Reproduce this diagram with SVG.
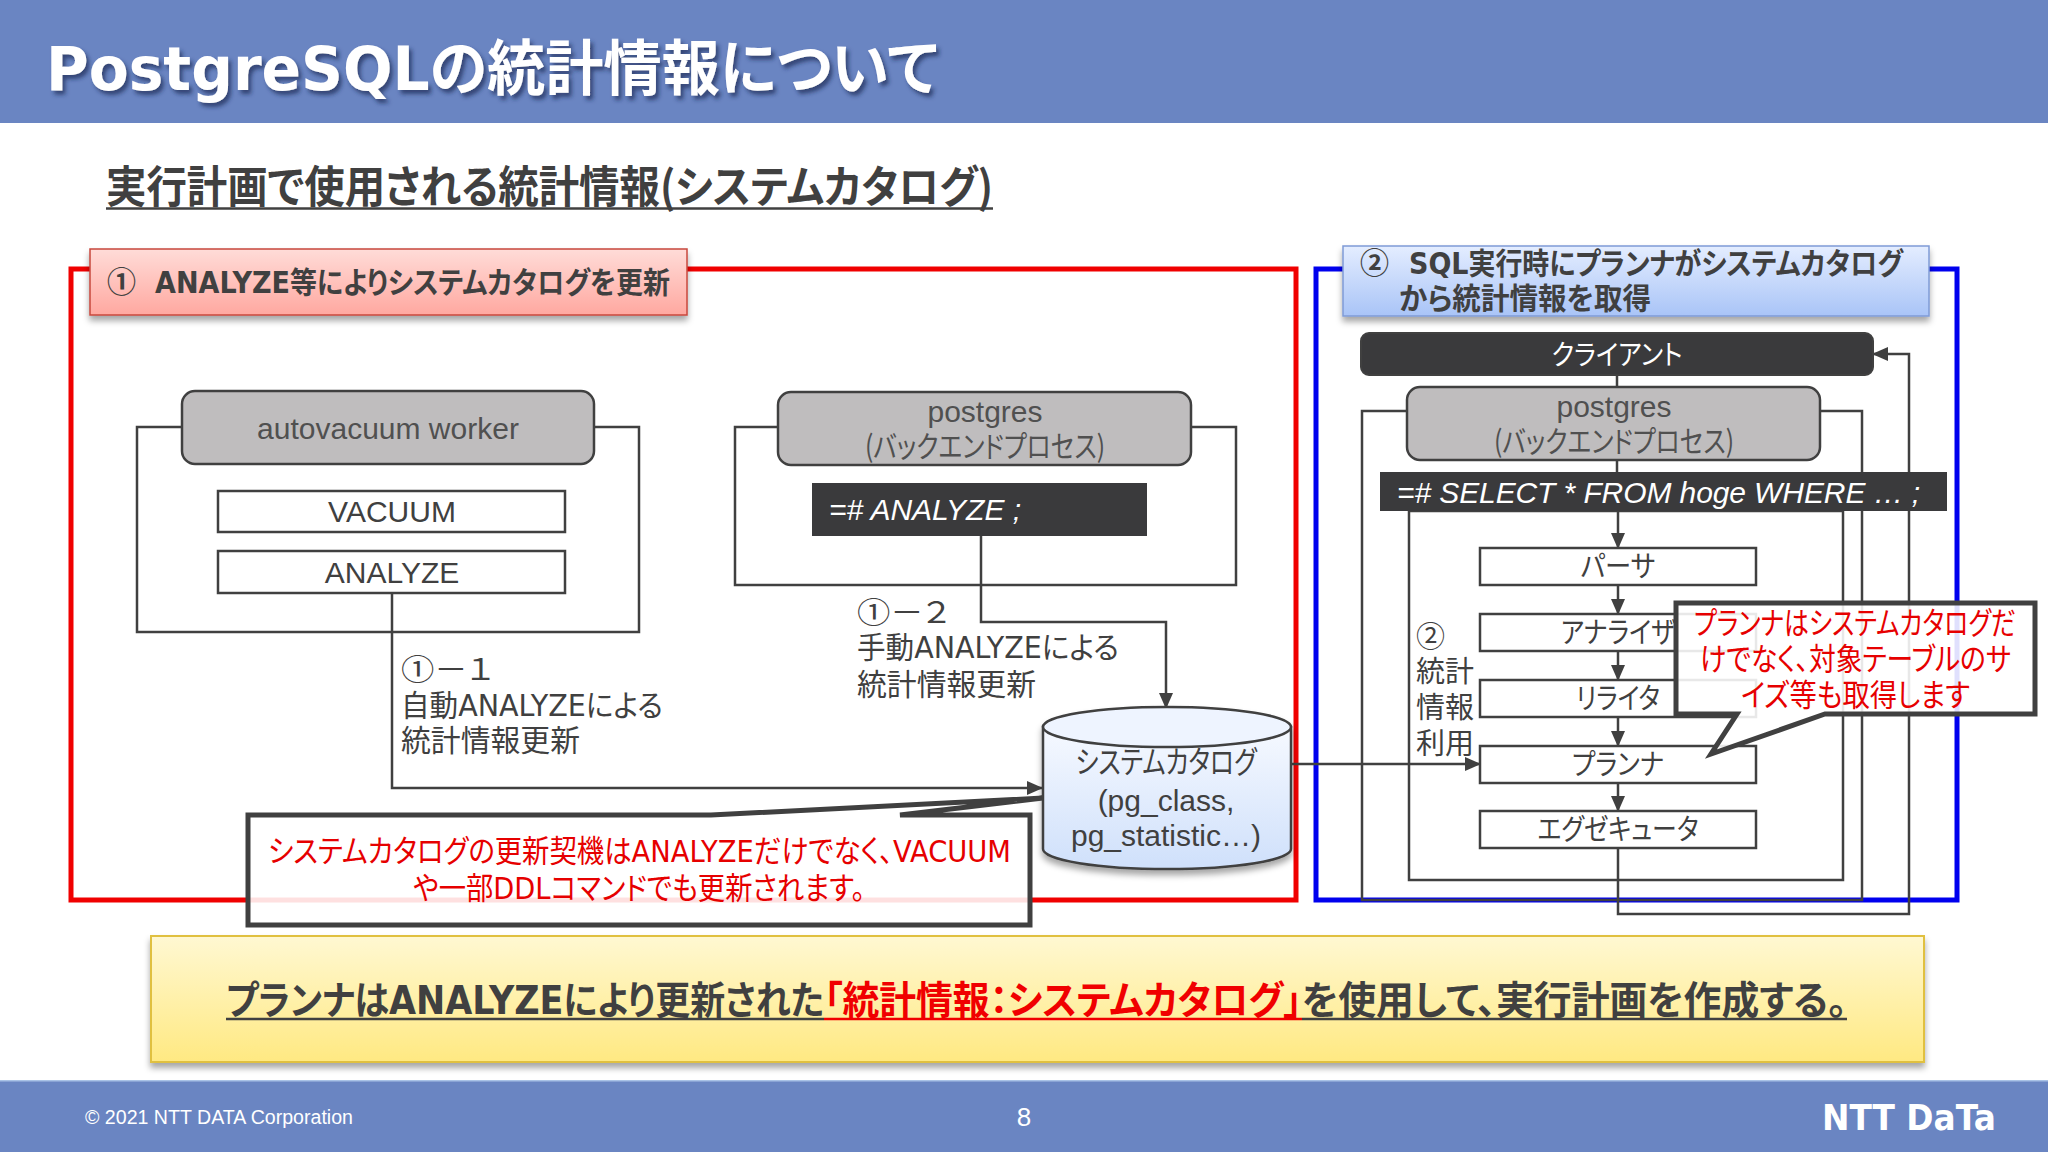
<svg xmlns="http://www.w3.org/2000/svg" width="2048" height="1152" viewBox="0 0 2048 1152">
<style>
text{font-family:"Noto Sans CJK JP","Noto Sans",sans-serif;fill:#404040;font-feature-settings:"palt"}
.a{font-family:"Liberation Sans","Noto Sans CJK JP",sans-serif}
.v{font-family:"DejaVu Sans",sans-serif;font-size:1em}
.w{fill:#fff}
.r{fill:#e60000}
.b{font-weight:700}
.m{text-anchor:middle}
.f{fill:#fff;stroke:#404040;stroke-width:2.5}
.h{fill:#bfbdbe;stroke:#404040;stroke-width:2.5}
.l{fill:none;stroke:#404040;stroke-width:2.5}
.d{fill:#3a3a3c}
.c{fill:#fff;fill-opacity:.88;stroke:#404040;stroke-width:5;stroke-linejoin:miter}
</style>
<defs>
<marker id="ah" markerUnits="userSpaceOnUse" markerWidth="16" markerHeight="14" refX="15" refY="7" orient="auto"><path d="M0 0L16 7L0 14Z" fill="#404040"/></marker>
<linearGradient id="gr" x1="0" y1="0" x2="0" y2="1"><stop offset="0" stop-color="#ffdcd8"/><stop offset="1" stop-color="#ffa8a0"/></linearGradient>
<linearGradient id="gb" x1="0" y1="0" x2="0" y2="1"><stop offset="0" stop-color="#e4edff"/><stop offset="1" stop-color="#a9c4f7"/></linearGradient>
<linearGradient id="gy" x1="0" y1="0" x2="0" y2="1"><stop offset="0" stop-color="#fff8d2"/><stop offset="1" stop-color="#ffe982"/></linearGradient>
<linearGradient id="gc" x1="0" y1="0" x2="0" y2="1"><stop offset="0" stop-color="#f6f9ff"/><stop offset="1" stop-color="#cfe0fb"/></linearGradient>
<filter id="sh" x="-5%" y="-10%" width="110%" height="130%"><feDropShadow dx="0" dy="5" stdDeviation="3" flood-color="#000" flood-opacity=".35"/></filter>
<filter id="ts" x="-5%" y="-20%" width="110%" height="150%"><feDropShadow dx="3" dy="4" stdDeviation="2" flood-color="#1c2c55" flood-opacity=".7"/></filter>
</defs>
<rect width="2048" height="1152" fill="#fff"/>
<g id="header">
<rect width="2048" height="123" fill="#6a85c2"/>
<text x="46" y="90" class="w b" font-size="60" textLength="892" lengthAdjust="spacingAndGlyphs" filter="url(#ts)"><tspan class="v">PostgreSQL</tspan>の統計情報について</text>
</g>
<g id="subtitle">
<text x="106" y="203" class="b" font-size="44" textLength="887" lengthAdjust="spacingAndGlyphs">実行計画で使用される統計情報(システムカタログ)</text>
<line x1="106" y1="208.5" x2="993" y2="208.5" stroke="#404040" stroke-width="2.5"/>
</g>
<g id="frames">
<rect x="71" y="269" width="1225" height="631" fill="none" stroke="#f00000" stroke-width="5"/>
<rect x="1316" y="269" width="641" height="631" fill="none" stroke="#0000ee" stroke-width="5"/>
</g>
<g id="label-1">
<rect x="90" y="249" width="597" height="66" fill="url(#gr)" stroke="#c8483c" stroke-width="1.5" filter="url(#sh)"/>
<text x="107" y="293" class="b" font-size="29">①</text>
<text x="155" y="293" class="b" font-size="30" textLength="515" lengthAdjust="spacingAndGlyphs"><tspan class="v">ANALYZE</tspan>等によりシステムカタログを更新</text>
</g>
<g id="label-2">
<rect x="1343" y="246" width="586" height="70" fill="url(#gb)" stroke="#7f9bd6" stroke-width="1.5" filter="url(#sh)"/>
<text x="1360" y="274" class="b" font-size="29">②</text>
<text x="1409" y="274" class="b" font-size="30" textLength="494" lengthAdjust="spacingAndGlyphs"><tspan class="v">SQL</tspan>実行時にプランナがシステムカタログ</text>
<text x="1399" y="309" class="b" font-size="30" textLength="252" lengthAdjust="spacingAndGlyphs">から統計情報を取得</text>
</g>
<g id="autovacuum">
<rect x="137" y="427" width="502" height="205" class="l"/>
<rect x="182" y="391" width="412" height="73" rx="13" class="h"/>
<text x="388" y="439" class="a m" font-size="30" style="fill:#505050">autovacuum worker</text>
</g>
<g id="vacuum"><rect x="218" y="491" width="347" height="41" class="f"/><text x="392" y="522" class="a m" font-size="30">VACUUM</text></g>
<g id="analyze"><rect x="218" y="551" width="347" height="42" class="f"/><text x="392" y="583" class="a m" font-size="30">ANALYZE</text></g>
<g id="postgres-1">
<rect x="735" y="427" width="501" height="158" class="l"/>
<rect x="778" y="392" width="413" height="73" rx="13" class="h"/>
<text x="985" y="422" class="a m" font-size="30" style="fill:#505050">postgres</text>
<text x="985" y="457" class="m" font-size="30" textLength="240" lengthAdjust="spacingAndGlyphs" style="fill:#505050">(バックエンドプロセス)</text>
</g>
<g id="manual-analyze"><rect x="812" y="483" width="335" height="53" class="d"/><text x="829" y="520" class="a w" font-size="30" font-style="italic">=# ANALYZE ;</text></g>
<g id="postgres-2-frames">
<rect x="1362" y="411" width="500" height="489" class="l"/>
<rect x="1409" y="511" width="434" height="369" class="l"/>
</g>
<g id="connectors">
<path d="M392 593V788H1042" class="l" marker-end="url(#ah)" stroke-width="3"/>
<path d="M981 536V622H1166V708" class="l" marker-end="url(#ah)"/>
<path d="M1290 764H1480" class="l" marker-end="url(#ah)"/>
<path d="M1617 375V387M1617 460V472" class="l"/>
<path d="M1618 511V548" class="l" marker-end="url(#ah)"/>
<path d="M1618 585V614" class="l" marker-end="url(#ah)"/>
<path d="M1618 651V680" class="l" marker-end="url(#ah)"/>
<path d="M1618 717V746" class="l" marker-end="url(#ah)"/>
<path d="M1618 783V811" class="l" marker-end="url(#ah)"/>
<path d="M1618 848V914H1909V354H1873" class="l" marker-end="url(#ah)"/>
</g>
<g id="catalog" filter="url(#sh)">
<path d="M1043 727V849A124 20 0 0 0 1291 849V727Z" fill="url(#gc)" stroke="#404040" stroke-width="2.5"/>
<ellipse cx="1167" cy="727" rx="124" ry="20" fill="#eef4ff" stroke="#404040" stroke-width="2.5"/>
</g>
<g id="catalog-text">
<text x="1166" y="773" class="m" font-size="31" textLength="181" lengthAdjust="spacingAndGlyphs">システムカタログ</text>
<text x="1166" y="811" class="a m" font-size="30">(pg_class,</text>
<text x="1166" y="846" class="a m" font-size="30">pg_statistic…)</text>
</g>
<g id="note-1">
<text x="401" y="680" font-size="30" textLength="92" lengthAdjust="spacingAndGlyphs">①－１</text>
<text x="401" y="716" font-size="30" textLength="262" lengthAdjust="spacingAndGlyphs">自動<tspan class="v">ANALYZE</tspan>による</text>
<text x="401" y="751" font-size="30" textLength="179" lengthAdjust="spacingAndGlyphs">統計情報更新</text>
</g>
<g id="note-2">
<text x="857" y="623" font-size="30" textLength="92" lengthAdjust="spacingAndGlyphs">①－２</text>
<text x="857" y="658" font-size="30" textLength="262" lengthAdjust="spacingAndGlyphs">手動<tspan class="v">ANALYZE</tspan>による</text>
<text x="857" y="695" font-size="30" textLength="179" lengthAdjust="spacingAndGlyphs">統計情報更新</text>
</g>
<g id="callout-1">
<path d="M248 815H711L1043 798L900 815H1030V925H248Z" class="c"/>
<text x="268" y="862" class="r" font-size="31" textLength="743" lengthAdjust="spacingAndGlyphs">システムカタログの更新契機は<tspan class="v">ANALYZE</tspan>だけでなく、<tspan class="v">VACUUM</tspan></text>
<text x="413" y="899" class="r" font-size="31" textLength="452" lengthAdjust="spacingAndGlyphs">や一部<tspan class="v">DDL</tspan>コマンドでも更新されます。</text>
</g>
<g id="client"><rect x="1361" y="333" width="512" height="42" rx="8" class="d" stroke="#404040" stroke-width="2"/><text x="1617" y="365" class="w m" font-size="28" textLength="131" lengthAdjust="spacingAndGlyphs">クライアント</text></g>
<g id="postgres-2">
<rect x="1407" y="387" width="413" height="73" rx="13" class="h"/>
<text x="1614" y="417" class="a m" font-size="30" style="fill:#505050">postgres</text>
<text x="1614" y="452" class="m" font-size="30" textLength="240" lengthAdjust="spacingAndGlyphs" style="fill:#505050">(バックエンドプロセス)</text>
</g>
<g id="select"><rect x="1380" y="472" width="567" height="39" class="d"/><text x="1397" y="503" class="a w" font-size="30" font-style="italic" textLength="523">=# SELECT * FROM hoge WHERE … ;</text></g>
<g id="parser"><rect x="1480" y="548" width="276" height="37" class="f"/><text x="1618" y="577" class="m" font-size="29" textLength="75" lengthAdjust="spacingAndGlyphs">パーサ</text></g>
<g id="analyzer"><rect x="1480" y="614" width="276" height="37" class="f"/><text x="1618" y="643" class="m" font-size="29" textLength="114" lengthAdjust="spacingAndGlyphs">アナライザ</text></g>
<g id="rewriter"><rect x="1480" y="680" width="276" height="37" class="f"/><text x="1618" y="709" class="m" font-size="29" textLength="84" lengthAdjust="spacingAndGlyphs">リライタ</text></g>
<g id="planner"><rect x="1480" y="746" width="276" height="37" class="f"/><text x="1618" y="775" class="m" font-size="29" textLength="92" lengthAdjust="spacingAndGlyphs">プランナ</text></g>
<g id="executor"><rect x="1480" y="811" width="276" height="37" class="f"/><text x="1618" y="840" class="m" font-size="29" textLength="161" lengthAdjust="spacingAndGlyphs">エグゼキュータ</text></g>
<g id="note-3">
<text x="1416" y="647" font-size="29">②</text>
<text x="1416" y="682" font-size="29">統計</text>
<text x="1416" y="718" font-size="29">情報</text>
<text x="1416" y="754" font-size="29">利用</text>
</g>
<g id="callout-2">
<path d="M1676 603H2035V714H1825L1711 754L1737 714H1676Z" class="c"/>
<text x="1694" y="634" class="r" font-size="31" textLength="322" lengthAdjust="spacingAndGlyphs">プランナはシステムカタログだ</text>
<text x="1700" y="670" class="r" font-size="31" textLength="311" lengthAdjust="spacingAndGlyphs">けでなく、対象テーブルのサ</text>
<text x="1741" y="706" class="r" font-size="31" textLength="229" lengthAdjust="spacingAndGlyphs">イズ等も取得します</text>
</g>
<g id="banner">
<rect x="151" y="936" width="1773" height="126" fill="url(#gy)" stroke="#e0c040" stroke-width="2" filter="url(#sh)"/>
<text x="226" y="1014" class="b" font-size="39" textLength="598" lengthAdjust="spacingAndGlyphs">プランナは<tspan class="v">ANALYZE</tspan>により更新された</text>
<text x="824" y="1014" class="b" font-size="39" textLength="478" lengthAdjust="spacingAndGlyphs" style="fill:#f00000">「統計情報：システムカタログ」</text>
<text x="1302" y="1014" class="b" font-size="39" textLength="545" lengthAdjust="spacingAndGlyphs">を使用して、実行計画を作成する。</text>
<line x1="226" y1="1019" x2="824" y2="1019" stroke="#404040" stroke-width="2.5"/>
<line x1="824" y1="1019" x2="1302" y2="1019" stroke="#f00000" stroke-width="2.5"/>
<line x1="1302" y1="1019" x2="1847" y2="1019" stroke="#404040" stroke-width="2.5"/>
</g>
<g id="footer">
<rect y="1080" width="2048" height="72" fill="#6a85c2"/>
<rect y="1080" width="2048" height="1.5" fill="#a9c2e6"/>
<text x="85" y="1124" class="a w" font-size="20" textLength="268" lengthAdjust="spacingAndGlyphs">© 2021 NTT DATA Corporation</text>
<text x="1024" y="1126" class="a w m" font-size="26">8</text>
<text x="1822" y="1130" class="w b" font-size="36" textLength="174" lengthAdjust="spacingAndGlyphs" style="font-family:'DejaVu Sans',sans-serif">NTT DaTa</text>
</g>
</svg>
